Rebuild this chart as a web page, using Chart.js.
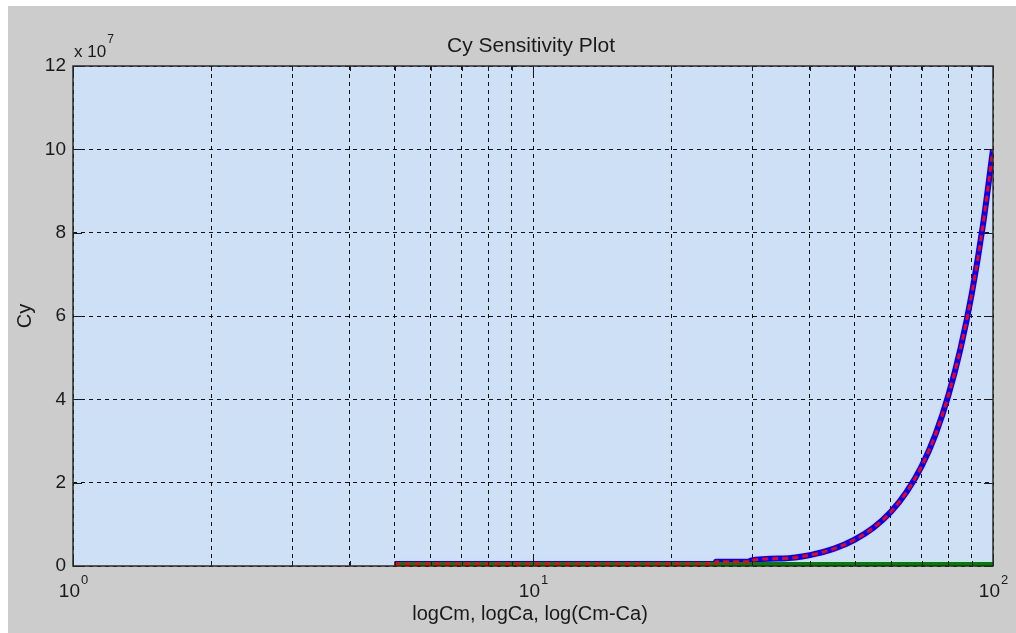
<!DOCTYPE html>
<html>
<head>
<meta charset="utf-8">
<script src="https://cdn.jsdelivr.net/npm/chart.js@4"></script>
<style>
  body { margin: 0; background: #ffffff; }
  #wrap { position: absolute; left: 8px; top: 6px; }
</style>
</head>
<body>
<div id="wrap"><canvas id="cy-chart" width="1008" height="627"></canvas></div>
<script>
// values
var cmX   = [5, 24.9, 25, 29.6, 29.7, 35, 40, 45, 50, 55, 60, 65, 70, 75, 80, 85, 90, 95, 100];
var cyCm  = [0.5e6, 0.5e6, 1.0e6, 1.0e6, 1.3e6, 1.8e6, 2.6e6, 4.1e6, 6.3e6, 9.2e6, 13.0e6, 17.9e6, 24.0e6, 31.6e6, 41.0e6, 52.2e6, 65.6e6, 81.5e6, 100e6];
var cyCa  = [0.5e6, 0.5e6, 1.0e6, 1.0e6, 1.3e6, 1.8e6, 2.6e6, 4.1e6, 6.3e6, 9.2e6, 13.0e6, 17.9e6, 24.0e6, 31.6e6, 41.0e6, 52.2e6, 65.6e6, 81.5e6, 100e6];
var diffX = [5, 24.9, 25, 100];
var cyDiff = [0.5e6, 0.5e6, 0, 0];

var xTicks = [1,2,3,4,5,6,7,8,9,10,20,30,40,50,60,70,80,90,100];
var xMajor = [1, 10, 100];
var yTicks = [0, 2e7, 4e7, 6e7, 8e7, 10e7, 12e7];
var yTickLabels = ['0', '2', '4', '6', '8', '10', '12'];

function pts(xs, ys) {
  return xs.map(function (x, i) { return {x: x, y: ys[i]}; });
}

var FONT = '"Liberation Sans", Arial, sans-serif';

function drawPow(ctx, x, base, exp) {
  ctx.font = '19px ' + FONT;
  var w1 = ctx.measureText('10').width;
  ctx.font = '13px ' + FONT;
  var w2 = ctx.measureText(exp).width;
  var start = x - (w1 + w2) / 2;
  ctx.textAlign = 'left';
  ctx.textBaseline = 'alphabetic';
  ctx.font = '19px ' + FONT;
  ctx.fillText('10', start, base);
  ctx.font = '13px ' + FONT;
  ctx.fillText(exp, start + w1 + 1, base - 13);
}

var matlabLook = {
  id: 'matlabLook',
  beforeDraw: function (chart) {
    var ctx = chart.ctx, a = chart.chartArea;
    ctx.save();
    ctx.fillStyle = '#cccccc';
    ctx.fillRect(0, 0, chart.width, chart.height);
    ctx.fillStyle = '#cde0f6';
    ctx.fillRect(a.left, a.top, a.right - a.left, a.bottom - a.top);
    ctx.restore();
  },
  afterDatasetsDraw: function (chart) {
    var ctx = chart.ctx, a = chart.chartArea;
    var xs = chart.scales.x, ys = chart.scales.y;
    ctx.save();
    // inward tick marks
    ctx.strokeStyle = '#1a1a1a';
    ctx.lineWidth = 1;
    ctx.beginPath();
    xs.ticks.forEach(function (t) {
      var px = Math.round(xs.getPixelForValue(t.value)) + 0.5;
      var len = xMajor.indexOf(t.value) >= 0 ? 9 : 5;
      ctx.moveTo(px, a.bottom); ctx.lineTo(px, a.bottom - len);
      ctx.moveTo(px, a.top); ctx.lineTo(px, a.top + len);
    });
    ys.ticks.forEach(function (t) {
      var py = Math.round(ys.getPixelForValue(t.value)) + 0.5;
      ctx.moveTo(a.left, py); ctx.lineTo(a.left + 9, py);
      ctx.moveTo(a.right, py); ctx.lineTo(a.right - 9, py);
    });
    ctx.stroke();
    // box
    ctx.strokeStyle = '#2b2b2b';
    ctx.lineWidth = 1.5;
    ctx.strokeRect(a.left, a.top, a.right - a.left, a.bottom - a.top);

    ctx.fillStyle = '#1a1a1a';
    // y tick labels
    ctx.font = '19px ' + FONT;
    ctx.textAlign = 'right';
    ctx.textBaseline = 'middle';
    ys.ticks.forEach(function (t) {
      var i = yTicks.indexOf(t.value);
      if (i >= 0) ctx.fillText(yTickLabels[i], a.left - 7, ys.getPixelForValue(t.value));
    });
    // x tick labels 10^n
    xMajor.forEach(function (v, i) {
      drawPow(ctx, xs.getPixelForValue(v), a.bottom + 31, String(i));
    });
    // exponent note
    ctx.textAlign = 'left';
    ctx.textBaseline = 'alphabetic';
    ctx.font = '17px ' + FONT;
    ctx.fillText('x 10', a.left + 1, a.top - 9);
    var wx = ctx.measureText('x 10').width;
    ctx.font = '12px ' + FONT;
    ctx.fillText('7', a.left + 2 + wx, a.top - 23);
    // title
    ctx.font = '21px ' + FONT;
    ctx.textAlign = 'center';
    ctx.fillText('Cy Sensitivity Plot', (a.left + a.right) / 2 - 2, a.top - 14);
    // x label
    ctx.font = '20px ' + FONT;
    ctx.fillText('logCm, logCa, log(Cm-Ca)', (a.left + a.right) / 2 - 3, a.bottom + 54);
    // y label
    ctx.translate(a.left - 48, (a.top + a.bottom) / 2);
    ctx.rotate(-Math.PI / 2);
    ctx.textBaseline = 'middle';
    ctx.fillText('Cy', 0, 0);
    ctx.restore();
  }
};

new Chart(document.getElementById('cy-chart').getContext('2d'), {
  type: 'line',
  data: {
    datasets: [
      {
        label: 'logCa',
        data: pts(cmX, cyCa),
        borderColor: '#ff0000',
        borderWidth: 3,
        borderDash: [6, 4],
        cubicInterpolationMode: 'monotone',
        pointRadius: 0,
        order: 1
      },
      {
        label: 'log(Cm-Ca)',
        data: pts(diffX, cyDiff),
        borderColor: '#007f00',
        borderWidth: 4,
        segment: {
          // the part lying on the x axis is half clipped, so draw it wider
          borderWidth: function (c) { return c.p0.parsed.y === 0 ? 8 : 4; }
        },
        pointRadius: 0,
        order: 2
      },
      {
        label: 'logCm',
        data: pts(cmX, cyCm),
        borderColor: '#0000ff',
        borderWidth: 6,
        cubicInterpolationMode: 'monotone',
        pointRadius: 0,
        order: 3
      }
    ]
  },
  options: {
    responsive: false,
    animation: false,
    layout: { padding: { left: 65, top: 60, right: 23, bottom: 67 } },
    plugins: {
      legend: { display: false },
      tooltip: { enabled: false },
      title: { display: false }
    },
    scales: {
      x: {
        type: 'logarithmic',
        min: 1,
        max: 100,
        afterBuildTicks: function (scale) {
          scale.ticks = xTicks.map(function (v) { return {value: v}; });
        },
        ticks: { display: false },
        grid: { color: '#111111', lineWidth: 1, drawTicks: false },
        border: { display: false, dash: [4, 4] }
      },
      y: {
        min: 0,
        max: 12e7,
        afterBuildTicks: function (scale) {
          scale.ticks = yTicks.map(function (v) { return {value: v}; });
        },
        ticks: { display: false },
        grid: { color: '#111111', lineWidth: 1, drawTicks: false },
        border: { display: false, dash: [4, 4] }
      }
    }
  },
  plugins: [matlabLook]
});
</script>
</body>
</html>
